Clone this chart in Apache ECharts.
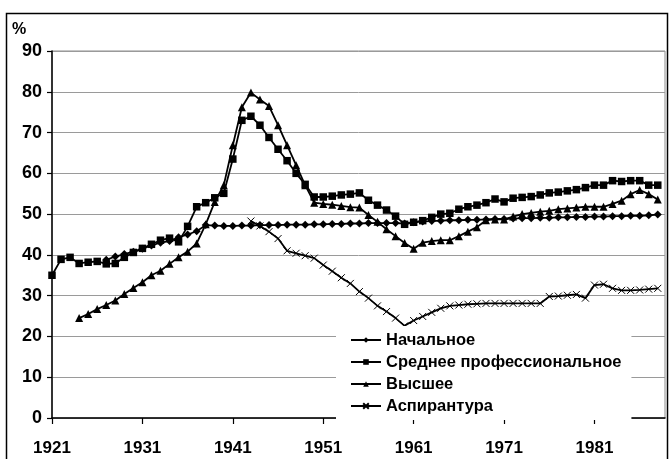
<!DOCTYPE html>
<html>
<head>
<meta charset="utf-8">
<script src="https://cdn.jsdelivr.net/npm/echarts@6/dist/echarts.min.js"></script>
<style>
  html, body { margin: 0; padding: 0; background: #fff; }
  #chart { width: 670px; height: 459px; }
</style>
</head>
<body>
<div id="chart"></div>
<script>
var years = [1921,1922,1923,1924,1925,1926,1927,1928,1929,1930,
  1931,1932,1933,1934,1935,1936,1937,1938,1939,1940,
  1941,1942,1943,1944,1945,1946,1947,1948,1949,1950,
  1951,1952,1953,1954,1955,1956,1957,1958,1959,1960,
  1961,1962,1963,1964,1965,1966,1967,1968,1969,1970,
  1971,1972,1973,1974,1975,1976,1977,1978,1979,1980,
  1981,1982,1983,1984,1985,1986,1987,1988];

var xTickLabels = [1921, 1931, 1941, 1951, 1961, 1971, 1981];
var yTickLabels = [0, 10, 20, 30, 40, 50, 60, 70, 80, 90];

var seriesNames = ['Начальное', 'Среднее профессиональное', 'Высшее', 'Аспирантура'];

var nachalnoe = [null,null,null,null,null,null,38.8,39.6,40.2,40.8,
  41.5,42.3,43.0,43.4,44.3,45.0,45.8,47.3,47.2,47.1,
  47.1,47.2,47.2,47.3,47.3,47.3,47.4,47.4,47.4,47.5,
  47.5,47.6,47.6,47.7,47.7,47.8,47.8,47.8,47.8,47.7,
  48.0,48.2,48.3,48.4,48.5,48.5,48.6,48.6,48.7,48.8,
  48.8,48.9,49.0,49.0,49.1,49.1,49.2,49.2,49.3,49.3,
  49.4,49.4,49.5,49.5,49.6,49.6,49.7,49.9];

var srednee = [35.0,38.9,39.4,37.9,38.2,38.4,37.8,37.9,39.4,40.6,
  41.6,42.6,43.6,44.1,43.2,47.0,51.8,52.8,54.0,55.1,
  63.5,73.0,74.0,71.8,68.8,65.9,63.1,60.0,57.3,54.2,
  54.2,54.4,54.7,54.9,55.2,53.4,52.2,51.0,49.5,47.5,
  48.0,48.4,49.2,50.0,50.2,51.2,51.8,52.2,52.8,53.7,
  53.0,53.9,54.1,54.3,54.7,55.2,55.4,55.7,56.0,56.5,
  57.1,57.1,58.2,58.0,58.2,58.2,57.1,57.1];

var vysshee = [null,null,null,24.5,25.5,26.7,27.7,28.8,30.4,31.9,
  33.3,35.0,36.1,37.8,39.4,40.8,42.8,47.5,53.0,57.1,
  66.9,76.2,79.8,78.1,76.5,71.8,66.9,62.0,57.1,52.8,
  52.5,52.3,52.0,51.7,51.6,49.8,48.1,46.3,44.6,42.9,
  41.5,43.0,43.4,43.6,43.6,44.6,45.7,46.8,48.5,48.7,
  48.7,49.4,50.0,50.3,50.6,50.8,51.2,51.4,51.6,51.8,
  51.8,51.8,52.5,53.3,54.9,55.9,54.9,53.6];

var aspirantura = [null,null,null,null,null,null,null,null,null,null,
  null,null,null,null,null,null,null,null,null,null,
  null,null,48.3,47.1,45.7,44.0,41.0,40.4,39.8,39.2,
  37.5,36.0,34.4,33.0,31.0,29.4,27.5,26.1,24.5,22.6,
  23.9,24.9,25.9,26.9,27.5,27.7,27.9,28.0,28.1,28.1,
  28.1,28.1,28.1,28.1,28.1,29.8,29.9,30.1,30.3,29.4,
  32.6,32.8,31.8,31.3,31.3,31.4,31.6,31.8];

function pairs(vals) {
  var out = [];
  for (var i = 0; i < years.length; i++) out.push([years[i], vals[i]]);
  return out;
}

var FONT = '"Liberation Sans", Arial, sans-serif';
var chart = echarts.init(document.getElementById('chart'), null, { renderer: 'canvas' });

var lineBase = { color: '#000', width: 1.8 };
function mkSeries(name, vals, symbol, size, extraItem) {
  return {
    name: name,
    type: 'line',
    data: pairs(vals),
    symbol: symbol,
    symbolSize: size,
    showSymbol: true,
    connectNulls: false,
    lineStyle: lineBase,
    itemStyle: Object.assign({ color: '#000' }, extraItem || {}),
    emphasis: { disabled: true },
    animation: false
  };
}

var option = {
  backgroundColor: '#fff',
  animation: false,
  grid: {
    left: 52, right: 5, top: 51, bottom: 41,
    show: true, borderColor: '#8c8c8c', borderWidth: 1, backgroundColor: 'transparent'
  },
  legend: {
    orient: 'vertical',
    left: 336, top: 326,
    padding: [5, 10, 5, 14],
    backgroundColor: '#fff',
    itemWidth: 30, itemHeight: 7, itemGap: 4,
    textStyle: { fontFamily: FONT, fontWeight: 'bold', fontSize: 16.5, color: '#000', lineHeight: 18 },
    data: seriesNames
  },
  xAxis: {
    type: 'value',
    min: years[0], max: 1988.8, interval: 10,
    axisLine: { show: true, lineStyle: { color: '#000', width: 1.5 } },
    axisTick: { show: true, inside: false, length: 6, lineStyle: { color: '#000', width: 1.2 } },
    splitLine: { show: false },
    axisLabel: {
      margin: 22, fontFamily: FONT, fontWeight: 'bold', fontSize: 17, color: '#000',
      showMaxLabel: false,
      formatter: function (v) { return xTickLabels.indexOf(v) >= 0 ? String(v) : ''; }
    }
  },
  yAxis: {
    type: 'value',
    min: yTickLabels[0], max: yTickLabels[yTickLabels.length - 1], interval: 10,
    axisLine: { show: true, lineStyle: { color: '#000', width: 1.5 } },
    axisTick: { show: true, inside: false, length: 5, lineStyle: { color: '#000', width: 1.2 } },
    splitLine: { show: true, lineStyle: { color: '#9a9a9a', width: 1 } },
    axisLabel: { margin: 10, fontFamily: FONT, fontWeight: 'bold', fontSize: 18, color: '#000' }
  },
  graphic: [
    { type: 'rect', silent: true, z: -10,
      shape: { x: 6.5, y: 13.5, width: 661, height: 470 },
      style: { fill: 'none', stroke: '#000', lineWidth: 1.5 } },
    { type: 'text', left: 12, top: 22, silent: true,
      style: { text: '%', fontFamily: FONT, fontWeight: 'bold', fontSize: 16, fill: '#000' } }
  ],
  series: [
    mkSeries(seriesNames[0], nachalnoe, 'diamond', 8),
    mkSeries(seriesNames[1], srednee, 'rect', 7.5),
    mkSeries(seriesNames[2], vysshee, 'triangle', 8),
    mkSeries(seriesNames[3], aspirantura, 'path://M0,0L10,10M10,0L0,10', 7,
      { color: '#000', borderColor: '#000', borderWidth: 1 })
  ]
};

chart.setOption(option);
</script>
</body>
</html>
